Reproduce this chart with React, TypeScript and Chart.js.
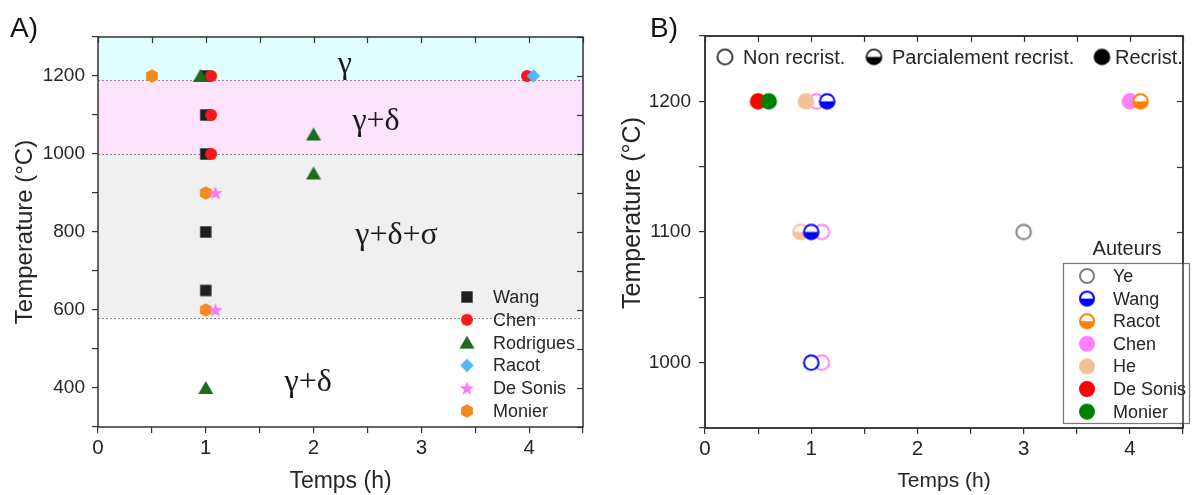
import React, { useEffect, useRef } from 'react';
import { Chart, registerables } from 'chart.js';

Chart.register(...registerables);

const SANS = '"Liberation Sans", Arial, sans-serif';
const SERIF = '"Liberation Serif", "DejaVu Serif", serif';
Chart.defaults.font.family = SANS;

// ---------------- Panel A data ----------------
const authorsA = ['Wang', 'Chen', 'Rodrigues', 'Racot', 'De Sonis', 'Monier'];
const wangTimeA = [1, 1, 1, 1, 1];
const wangTempA = [1200, 1100, 1000, 800, 650];
const chenTimeA = [1.05, 1.05, 1.05, 3.98];
const chenTempA = [1200, 1100, 1000, 1200];
const rodriguesTimeA = [0.95, 2, 2, 1];
const rodriguesTempA = [1200, 1050, 950, 400];
const racotTimeA = [4.04];
const racotTempA = [1200];
const deSonisTimeA = [1.09, 1.09];
const deSonisTempA = [900, 600];
const monierTimeA = [0.5, 1, 1];
const monierTempA = [1200, 900, 600];

const phaseBoundsA = [1300, 1190, 1000, 580, 300];
const phaseNamesA = ['γ', 'γ+δ', 'γ+δ+σ', 'γ+δ'];
const phaseLabelTimeA = [2.29, 2.58, 2.77, 1.95];
const phaseLabelTempA = [1228, 1082, 792, 414];

const timeTickLabels = [0, 1, 2, 3, 4];
const tempTickLabelsA = [400, 600, 800, 1000, 1200];

// ---------------- Panel B data ----------------
const authorsB = ['Ye', 'Wang', 'Racot', 'Chen', 'He', 'De Sonis', 'Monier'];
// states: 0 = non recrist., 1 = partiellement, 2 = recrist.
const yeTimeB = [3];
const yeTempB = [1100];
const yeStateB = [0];
const wangTimeB = [1.15, 1.0, 1.0];
const wangTempB = [1200, 1100, 1000];
const wangStateB = [1, 1, 0];
const racotTimeB = [4.1];
const racotTempB = [1200];
const racotStateB = [1];
const chenTimeB = [1.05, 4.0, 1.1, 1.1];
const chenTempB = [1200, 1200, 1100, 1000];
const chenStateB = [0, 2, 0, 0];
const heTimeB = [0.95, 0.9];
const heTempB = [1200, 1100];
const heStateB = [2, 1];
const deSonisTimeB = [0.5];
const deSonisTempB = [1200];
const deSonisStateB = [2];
const monierTimeB = [0.6];
const monierTempB = [1200];
const monierStateB = [2];
const legendStateB = [0, 1, 1, 2, 2, 2, 2];
const stateNamesB = ['Non recrist.', 'Parcialement recrist.', 'Recrist.'];

const tempTickLabelsB = [1000, 1100, 1200];

// ---------------- styles ----------------
const colorsA = ['#1f1f1f', '#f21b1b', '#1d6b1d', '#52b8f7', '#f27ff2', '#f28b1f'];
const shapesA = ['square', 'circle', 'triangle', 'diamond', 'star', 'hexagon'];
const orderA = [6, 5, 4, 1, 2, 3];
const bandColorsA = ['#e0fefe', '#fde3fc', '#f0f0f0', 'rgba(255,255,255,0)'];

const colorsB = ['#808080', '#0000ff', '#ff7f00', '#ff80ff', '#f5c096', '#ff0000', '#008000'];
const orderB = [3, 2, 2, 5, 2, 4, 1];

const AXIS = '#333333';
const TEXT = '#262626';

function makeCanvas(size: number, draw: (c: CanvasRenderingContext2D, m: number) => void) {
  const c = document.createElement('canvas');
  c.width = size;
  c.height = size;
  const ctx = c.getContext('2d')!;
  draw(ctx, size / 2);
  return c;
}

function shapeMarker(shape: string, color: string) {
  return makeCanvas(20, (ctx, m) => {
    ctx.fillStyle = color;
    ctx.beginPath();
    if (shape === 'square') {
      ctx.rect(m - 5.7, m - 5.7, 11.4, 11.4);
    } else if (shape === 'circle') {
      ctx.arc(m, m, 6, 0, Math.PI * 2);
    } else if (shape === 'triangle') {
      ctx.moveTo(m, m - 7);
      ctx.lineTo(m + 7.5, m + 6);
      ctx.lineTo(m - 7.5, m + 6);
      ctx.closePath();
    } else if (shape === 'diamond') {
      ctx.moveTo(m, m - 6.8);
      ctx.lineTo(m + 6.8, m);
      ctx.lineTo(m, m + 6.8);
      ctx.lineTo(m - 6.8, m);
      ctx.closePath();
    } else if (shape === 'star') {
      for (let k = 0; k < 10; k++) {
        const r = k % 2 === 0 ? 7.5 : 3.2;
        const a = -Math.PI / 2 + (k * Math.PI) / 5;
        const px = m + r * Math.cos(a);
        const py = m + 0.5 + r * Math.sin(a);
        if (k === 0) ctx.moveTo(px, py);
        else ctx.lineTo(px, py);
      }
      ctx.closePath();
    } else if (shape === 'hexagon') {
      for (let k = 0; k < 6; k++) {
        const a = -Math.PI / 2 + (k * Math.PI) / 3;
        const px = m + 6.8 * Math.cos(a);
        const py = m + 6.8 * Math.sin(a);
        if (k === 0) ctx.moveTo(px, py);
        else ctx.lineTo(px, py);
      }
      ctx.closePath();
    }
    ctx.fill();
  });
}

function stateMarker(color: string, state: number, r: number, lw: number) {
  const size = Math.ceil(2 * r + lw + 4);
  return makeCanvas(size, (ctx, m) => {
    ctx.beginPath();
    ctx.arc(m, m, r, 0, Math.PI * 2);
    ctx.fillStyle = state === 2 ? color : '#ffffff';
    ctx.fill();
    if (state === 1) {
      ctx.beginPath();
      ctx.arc(m, m, r, 0, Math.PI, false);
      ctx.closePath();
      ctx.fillStyle = color;
      ctx.fill();
    }
    ctx.beginPath();
    ctx.arc(m, m, r, 0, Math.PI * 2);
    ctx.lineWidth = lw;
    ctx.strokeStyle = color;
    ctx.stroke();
  });
}

function drawFrameAndInnerTicks(chart: any, xStep: number, yStep: number) {
  const { ctx, chartArea: ca, scales } = chart;
  const x = scales.x;
  const y = scales.y;
  ctx.save();
  ctx.strokeStyle = AXIS;
  ctx.lineWidth = 1.2;
  for (let v = x.min; v <= x.max + 1e-9; v += xStep) {
    const px = Math.round(x.getPixelForValue(v)) + 0.5;
    ctx.beginPath();
    ctx.moveTo(px, ca.top);
    ctx.lineTo(px, ca.top + 6);
    ctx.stroke();
  }
  for (let v = y.min; v <= y.max + 1e-9; v += yStep) {
    const py = Math.round(y.getPixelForValue(v)) + 0.5;
    ctx.beginPath();
    ctx.moveTo(ca.right, py);
    ctx.lineTo(ca.right - 6, py);
    ctx.stroke();
  }
  ctx.lineWidth = 1.5;
  ctx.strokeRect(ca.left, ca.top, ca.right - ca.left, ca.bottom - ca.top);
  ctx.restore();
}

function axisCommon(min: number, max: number, step: number, labels: number[], extra: any) {
  return {
    type: 'linear',
    min,
    max,
    ticks: {
      stepSize: step,
      autoSkip: false,
      maxRotation: 0,
      color: TEXT,
      font: { size: 19 },
      callback: (v: number) => (labels.some((l) => Math.abs(l - v) < 1e-6) ? String(v) : ''),
      ...(extra.ticks || {}),
    },
    grid: { drawOnChartArea: false, drawTicks: true, tickLength: 6, color: AXIS, lineWidth: 1.2 },
    border: { display: false },
    title: extra.title,
    afterFit: extra.afterFit,
  };
}

function configA(markers: HTMLCanvasElement[]): any {
  const timesA = [wangTimeA, chenTimeA, rodriguesTimeA, racotTimeA, deSonisTimeA, monierTimeA];
  const tempsA = [wangTempA, chenTempA, rodriguesTempA, racotTempA, deSonisTempA, monierTempA];
  const plugin = {
    id: 'panelA',
    beforeDatasetsDraw(chart: any) {
      const { ctx, chartArea: ca, scales } = chart;
      const y = scales.y;
      const x = scales.x;
      ctx.save();
      for (let i = 0; i < bandColorsA.length; i++) {
        const y0 = y.getPixelForValue(phaseBoundsA[i]);
        const y1 = y.getPixelForValue(phaseBoundsA[i + 1]);
        ctx.fillStyle = bandColorsA[i];
        ctx.fillRect(ca.left, y0, ca.right - ca.left, y1 - y0);
      }
      ctx.strokeStyle = '#8c8c8c';
      ctx.lineWidth = 1;
      ctx.setLineDash([2, 2]);
      for (let i = 1; i < phaseBoundsA.length - 1; i++) {
        const py = Math.round(y.getPixelForValue(phaseBoundsA[i])) + 0.5;
        ctx.beginPath();
        ctx.moveTo(ca.left, py);
        ctx.lineTo(ca.right, py);
        ctx.stroke();
      }
      ctx.setLineDash([]);
      ctx.fillStyle = '#1a1a1a';
      ctx.font = `32px ${SERIF}`;
      ctx.textAlign = 'center';
      ctx.textBaseline = 'middle';
      phaseNamesA.forEach((n, i) => {
        ctx.fillText(n, x.getPixelForValue(phaseLabelTimeA[i]), y.getPixelForValue(phaseLabelTempA[i]));
      });
      ctx.restore();
    },
    afterDraw(chart: any) {
      drawFrameAndInnerTicks(chart, 0.5, 100);
      const { ctx } = chart;
      ctx.save();
      ctx.font = `18px ${SANS}`;
      ctx.fillStyle = TEXT;
      ctx.textAlign = 'left';
      ctx.textBaseline = 'middle';
      authorsA.forEach((n, i) => {
        const yy = 297 + i * 22.8;
        const m = markers[i];
        ctx.drawImage(m, 467 - m.width / 2, yy - m.height / 2);
        ctx.fillText(n, 493, yy + 1);
      });
      ctx.font = `28px ${SANS}`;
      ctx.fillStyle = '#111';
      ctx.textBaseline = 'alphabetic';
      ctx.fillText('A)', 10, 37);
      ctx.restore();
    },
  };
  return {
    type: 'scatter',
    data: {
      datasets: authorsA.map((name, i) => ({
        label: name,
        data: timesA[i].map((t, j) => ({ x: t, y: tempsA[i][j] })),
        pointStyle: markers[i],
        pointRadius: 7,
        order: orderA[i],
      })),
    },
    options: {
      animation: false,
      responsive: true,
      maintainAspectRatio: false,
      layout: { padding: { top: 37, right: 17, left: 0, bottom: 0 } },
      plugins: { legend: { display: false }, tooltip: { enabled: false } },
      scales: {
        x: axisCommon(0, 4.5, 0.5, timeTickLabels, {
          ticks: { padding: 3, font: { size: 20.5 } },
          title: { display: true, text: 'Temps (h)', color: TEXT, font: { size: 23 }, padding: { top: 0, bottom: 0 } },
          afterFit: (s: any) => {
            s.height = 68;
          },
        }),
        y: axisCommon(300, 1300, 100, tempTickLabelsA, {
          ticks: { padding: 7 },
          title: { display: true, text: 'Temperature (°C)', color: TEXT, font: { size: 24 }, padding: { top: 11, bottom: 0 } },
          afterFit: (s: any) => {
            s.width = 98;
          },
        }),
      },
    },
    plugins: [plugin],
  };
}

function configB(): any {
  const timesB = [yeTimeB, wangTimeB, racotTimeB, chenTimeB, heTimeB, deSonisTimeB, monierTimeB];
  const tempsB = [yeTempB, wangTempB, racotTempB, chenTempB, heTempB, deSonisTempB, monierTempB];
  const statesB = [yeStateB, wangStateB, racotStateB, chenStateB, heStateB, deSonisStateB, monierStateB];
  const pointMarkers = colorsB.map((c) => [0, 1, 2].map((s) => stateMarker(c, s, 7.3, 2)));
  const legendMarkers = colorsB.map((c, i) => stateMarker(c, legendStateB[i], 7, 2));
  const topMarkers = [0, 1, 2].map((s) => stateMarker('#000000', s, 7.5, 1.6));
  const plugin = {
    id: 'panelB',
    afterDraw(chart: any) {
      drawFrameAndInnerTicks(chart, 0.5, 50);
      const { ctx } = chart;
      ctx.save();
      // state legend (top)
      ctx.font = `20px ${SANS}`;
      ctx.fillStyle = TEXT;
      ctx.textAlign = 'left';
      ctx.textBaseline = 'middle';
      const topMarkX = [125, 274, 502];
      const topTextX = [143, 292, 515];
      stateNamesB.forEach((n, i) => {
        const m = topMarkers[i];
        ctx.drawImage(m, topMarkX[i] - m.width / 2, 57 - m.height / 2);
        ctx.fillText(n, topTextX[i], 58);
      });
      // authors legend
      ctx.fillStyle = '#ffffff';
      ctx.fillRect(463.5, 263.5, 126, 160);
      ctx.strokeStyle = '#777777';
      ctx.lineWidth = 1.2;
      ctx.strokeRect(463.5, 263.5, 126, 160);
      ctx.fillStyle = TEXT;
      ctx.textAlign = 'center';
      ctx.font = `20px ${SANS}`;
      ctx.fillText('Auteurs', 527, 249);
      ctx.textAlign = 'left';
      ctx.font = `18px ${SANS}`;
      authorsB.forEach((n, i) => {
        const yy = 276 + i * 22.6;
        const m = legendMarkers[i];
        ctx.drawImage(m, 487 - m.width / 2, yy - m.height / 2);
        ctx.fillText(n, 513, yy + 1);
      });
      // y axis title
      ctx.save();
      ctx.translate(33, 213);
      ctx.rotate(-Math.PI / 2);
      ctx.textAlign = 'center';
      ctx.textBaseline = 'middle';
      ctx.font = `25px ${SANS}`;
      ctx.fillText('Temperature (°C)', 0, 0);
      ctx.restore();
      ctx.font = `28px ${SANS}`;
      ctx.fillStyle = '#111';
      ctx.textBaseline = 'alphabetic';
      ctx.fillText('B)', 50, 37);
      ctx.restore();
      // redraw frame edge over legend box
      ctx.save();
      ctx.strokeStyle = AXIS;
      ctx.lineWidth = 1.5;
      const ca = chart.chartArea;
      ctx.strokeRect(ca.left, ca.top, ca.right - ca.left, ca.bottom - ca.top);
      ctx.restore();
    },
  };
  return {
    type: 'scatter',
    data: {
      datasets: authorsB.map((name, i) => ({
        label: name,
        data: timesB[i].map((t, j) => ({ x: t, y: tempsB[i][j] })),
        pointStyle: statesB[i].map((s) => pointMarkers[i][s]),
        pointRadius: 8,
        order: orderB[i],
      })),
    },
    options: {
      animation: false,
      responsive: true,
      maintainAspectRatio: false,
      layout: { padding: { top: 36, right: 2, left: 0, bottom: 0 } },
      plugins: { legend: { display: false }, tooltip: { enabled: false } },
      scales: {
        x: axisCommon(0, 4.5, 0.5, timeTickLabels, {
          ticks: { padding: 3, font: { size: 20.5 } },
          title: { display: true, text: 'Temps (h)', color: TEXT, font: { size: 21 }, padding: { top: 0, bottom: 1 } },
          afterFit: (s: any) => {
            s.height = 67;
          },
        }),
        y: axisCommon(950, 1250, 50, tempTickLabelsB, {
          ticks: { padding: 8 },
          title: { display: false },
          afterFit: (s: any) => {
            s.width = 105;
          },
        }),
      },
    },
    plugins: [plugin],
  };
}

export default function App() {
  const refA = useRef<HTMLCanvasElement>(null);
  const refB = useRef<HTMLCanvasElement>(null);
  useEffect(() => {
    const markersA = shapesA.map((s, i) => shapeMarker(s, colorsA[i]));
    const a = new Chart(refA.current!, configA(markersA));
    const b = new Chart(refB.current!, configB());
    return () => {
      a.destroy();
      b.destroy();
    };
  }, []);
  return (
    <div style={{ position: 'fixed', left: 0, top: 0, width: 1192, height: 495, background: '#ffffff' }}>
      <div style={{ position: 'absolute', left: 0, top: 0, width: 600, height: 495 }}>
        <canvas ref={refA} />
      </div>
      <div style={{ position: 'absolute', left: 600, top: 0, width: 592, height: 495 }}>
        <canvas ref={refB} />
      </div>
    </div>
  );
}
